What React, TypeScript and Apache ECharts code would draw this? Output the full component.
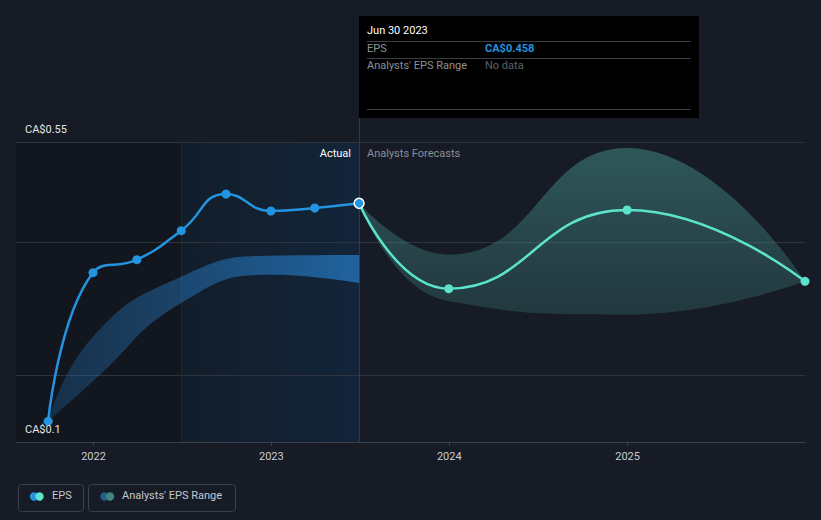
import React, { useEffect, useRef } from "react";
import * as echarts from "echarts";

const actualDates = ["2021-09-30", "2021-12-31", "2022-03-31", "2022-06-30", "2022-09-30", "2022-12-31", "2023-03-31", "2023-06-30"];
const actualEps = [0.131, 0.354, 0.3735, 0.417, 0.472, 0.4465, 0.451, 0.458];

const rangeDates = ["2021-09-30", "2021-12-31", "2022-06-30", "2022-12-31", "2023-06-30"];
const actualRangeLow = [0.131, 0.191, 0.3085, 0.351, 0.3385];
const actualRangeHigh = [0.131, 0.258, 0.348, 0.3795, 0.3805];

const forecastDates = ["2023-06-30", "2023-12-31", "2024-12-31", "2025-12-31"];
const forecastEps = [0.458, 0.33, 0.448, 0.341];
const forecastLow = [0.458, 0.311, 0.291, 0.341];
const forecastHigh = [0.458, 0.381, 0.541, 0.341];

const gridValues = [0.2, 0.4, 0.55];
const yTickLabels = ["CA$0.55", "CA$0.1"];
const pastStart = "2022-06-30";
const todayDate = "2023-06-30";

const FONT = "Roboto, 'Noto Sans', sans-serif";
const BLUE = "#2394df";
const TEAL = "#5ce3cc";

export default function App() {
  const ref = useRef<HTMLDivElement>(null);
  useEffect(() => {
    if (!ref.current) return;
    const chart = echarts.init(ref.current, null, { renderer: "svg" });
    const pair = (d: string[], v: number[]) => d.map((x, i) => [x, v[i]]);
    const option: any = {
      animation: false,
      backgroundColor: "#161b26",
      textStyle: { fontFamily: FONT },
      grid: { left: 16, right: 16, top: 118, bottom: 78 },
      xAxis: {
        type: "time",
        min: "2021-07-26",
        max: "2025-12-31",
        minInterval: 365 * 24 * 3600 * 1000,
        maxInterval: 366 * 24 * 3600 * 1000,
        axisLine: { show: true, lineStyle: { color: "#3b404b", width: 1 } },
        axisTick: { show: true, length: 4, lineStyle: { color: "#3b404b" } },
        axisLabel: {
          color: "#c9ccd2",
          fontSize: 11,
          fontFamily: FONT,
          margin: 9,
          formatter: "{yyyy}",
          showMinLabel: false,
          showMaxLabel: false,
        },
        splitLine: { show: false },
      },
      yAxis: {
        type: "value",
        min: 0.1,
        max: 0.586,
        show: false,
        splitLine: { show: false },
      },
      graphic: [
        { type: "text", z: 100, left: 25, top: 124, style: { text: yTickLabels[0], fill: "#e3e5e8", font: `11px ${FONT}` } },
        { type: "text", z: 100, left: 25, top: 424, style: { text: yTickLabels[1], fill: "#e3e5e8", font: `11px ${FONT}` } },
        { type: "text", z: 100, x: 351, y: 148, style: { text: "Actual", fill: "#ffffff", font: `11px ${FONT}`, align: "right" } },
        { type: "text", z: 100, left: 367, top: 148, style: { text: "Analysts Forecasts", fill: "#8b8f97", font: `11px ${FONT}` } },
        // tooltip box
        {
          type: "group",
          z: 100,
          left: 359,
          top: 16,
          children: [
            { type: "rect", shape: { x: 0, y: 0, width: 340, height: 102 }, style: { fill: "#000000" } },
            { type: "text", x: 8, y: 9, style: { text: "Jun 30 2023", fill: "#ffffff", font: `11px ${FONT}` } },
            { type: "line", shape: { x1: 8, y1: 25.5, x2: 332, y2: 25.5 }, style: { stroke: "#3a3d44", lineWidth: 1 } },
            { type: "text", x: 8, y: 27, style: { text: "EPS", fill: "#8d9199", font: `11px ${FONT}` } },
            { type: "text", x: 126, y: 27, style: { text: "CA$0.458", fill: BLUE, font: `bold 11px ${FONT}` } },
            { type: "line", shape: { x1: 8, y1: 42.5, x2: 332, y2: 42.5 }, style: { stroke: "#3a3d44", lineWidth: 1 } },
            { type: "text", x: 8, y: 44, style: { text: "Analysts' EPS Range", fill: "#8d9199", font: `11px ${FONT}` } },
            { type: "text", x: 126, y: 44, style: { text: "No data", fill: "#5c6068", font: `11px ${FONT}` } },
            { type: "line", shape: { x1: 8, y1: 93.5, x2: 332, y2: 93.5 }, style: { stroke: "#3a3d44", lineWidth: 1 } },
          ],
        },
        // legend
        {
          type: "group",
          z: 100,
          left: 16,
          top: 482,
          children: [
            { type: "rect", shape: { x: 0.5, y: 0.5, width: 65, height: 27, r: 3 }, style: { fill: "none", stroke: "#3b3f48", lineWidth: 1 } },
            { type: "circle", shape: { cx: 16, cy: 12.5, r: 4.2 }, style: { fill: BLUE } },
            { type: "circle", shape: { cx: 21.5, cy: 12.5, r: 4.2 }, style: { fill: TEAL } },
            { type: "text", x: 34, y: 6, style: { text: "EPS", fill: "#c5c8ce", font: `11px ${FONT}` } },
            { type: "rect", shape: { x: 70.5, y: 0.5, width: 147, height: 27, r: 3 }, style: { fill: "none", stroke: "#3b3f48", lineWidth: 1 } },
            { type: "circle", shape: { cx: 86.5, cy: 12.5, r: 4.2 }, style: { fill: "#1f5f8e" } },
            { type: "circle", shape: { cx: 92, cy: 12.5, r: 4.2 }, style: { fill: "#3f847f" } },
            { type: "text", x: 104, y: 6, style: { text: "Analysts' EPS Range", fill: "#c5c8ce", font: `11px ${FONT}` } },
          ],
        },
      ],
      series: [
        {
          name: "bg",
          type: "line",
          data: [],
          silent: true,
          z: 0,
          markArea: {
            silent: true,
            z: 0,
            data: [
              [
                { xAxis: "2021-07-26", yAxis: 0.1, itemStyle: { color: "#12161e" } },
                { xAxis: pastStart, yAxis: 0.55 },
              ],
              [
                {
                  xAxis: pastStart,
                  yAxis: 0.1,
                  itemStyle: {
                    color: new echarts.graphic.LinearGradient(0, 0, 1, 0, [
                      { offset: 0, color: "#121d2a" },
                      { offset: 1, color: "#13253a" },
                    ]),
                  },
                },
                { xAxis: todayDate, yAxis: 0.55 },
              ],
            ],
          },
          markLine: {
            silent: true,
            z: 0,
            symbol: "none",
            label: { show: false },
            data: [
              ...gridValues.map((v) => ({ yAxis: v, lineStyle: { color: "#2e333d", width: 1, type: "solid" } })),
              [
                { coord: [pastStart, 0.1], lineStyle: { color: "#1c2838", width: 1, type: "solid" } },
                { coord: [pastStart, 0.55] },
              ],
              { xAxis: todayDate, lineStyle: { color: "#2a3b4f", width: 1, type: "solid" } },
            ],
          },
        },
        {
          name: "actualLow",
          type: "line",
          stack: "actualRange",
          smooth: true,
          symbol: "none",
          lineStyle: { opacity: 0 },
          data: pair(rangeDates, actualRangeLow),
        },
        {
          name: "actualBand",
          type: "line",
          stack: "actualRange",
          smooth: true,
          symbol: "none",
          lineStyle: { opacity: 0 },
          areaStyle: {
            opacity: 1,
            color: new echarts.graphic.LinearGradient(0, 0, 1, 0, [
              { offset: 0, color: "rgba(38,125,200,0.25)" },
              { offset: 1, color: "rgba(38,125,200,0.7)" },
            ]),
          },
          data: rangeDates.map((d, i) => [d, actualRangeHigh[i] - actualRangeLow[i]]),
        },
        {
          name: "fcLow",
          type: "line",
          stack: "fcRange",
          smooth: true,
          symbol: "none",
          lineStyle: { opacity: 0 },
          data: pair(forecastDates, forecastLow),
        },
        {
          name: "fcBand",
          type: "line",
          stack: "fcRange",
          smooth: true,
          symbol: "none",
          lineStyle: { opacity: 0 },
          areaStyle: {
            opacity: 1,
            color: new echarts.graphic.LinearGradient(0, 0, 0, 1, [
              { offset: 0, color: "rgba(80,170,160,0.42)" },
              { offset: 1, color: "rgba(80,170,160,0.2)" },
            ]),
          },
          data: forecastDates.map((d, i) => [d, forecastHigh[i] - forecastLow[i]]),
        },
        {
          name: "forecast",
          type: "line",
          smooth: true,
          symbol: "circle",
          symbolSize: 9,
          showSymbol: true,
          itemStyle: { color: TEAL },
          lineStyle: { color: TEAL, width: 2.5 },
          data: forecastDates.map((d, i) => ({ value: [d, forecastEps[i]], symbolSize: i === 0 ? 0 : 9 })),
          z: 5,
        },
        {
          name: "EPS",
          type: "line",
          smooth: true,
          symbol: "circle",
          symbolSize: 9,
          itemStyle: { color: BLUE },
          lineStyle: { color: BLUE, width: 2.5 },
          data: actualDates.map((d, i) =>
            i === actualDates.length - 1
              ? { value: [d, actualEps[i]], symbolSize: 10, itemStyle: { color: BLUE, borderColor: "#ffffff", borderWidth: 1.5 } }
              : { value: [d, actualEps[i]] }
          ),
          z: 6,
        },
      ],
    };
    chart.setOption(option);
    return () => chart.dispose();
  }, []);
  return <div ref={ref} style={{ width: 821, height: 520, position: "absolute", left: 0, top: 0 }} />;
}
